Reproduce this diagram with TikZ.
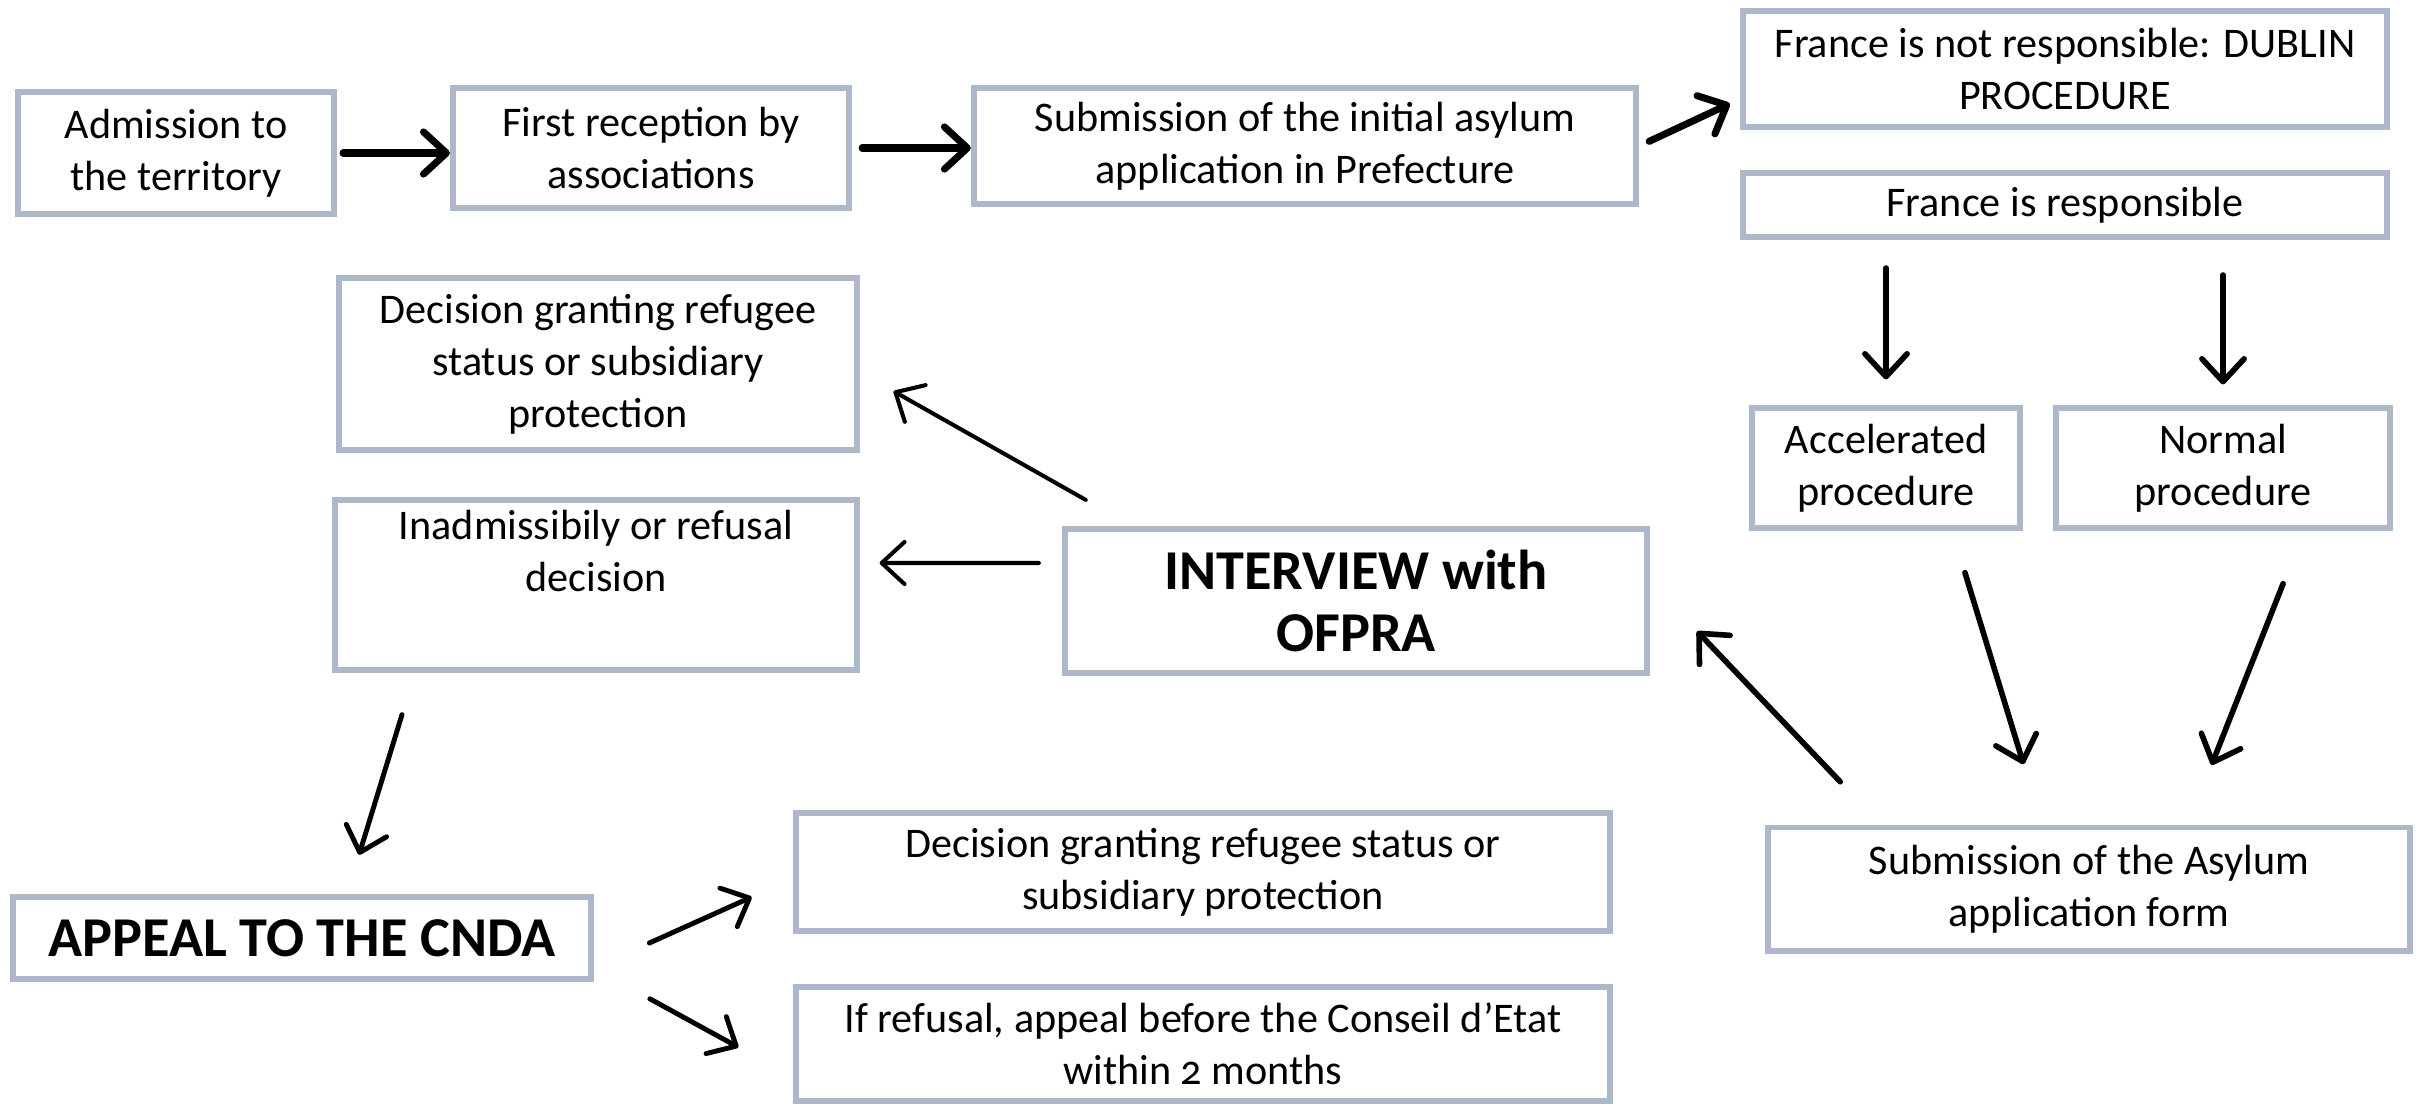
\documentclass[tikz,border=0pt]{standalone}
\usepackage{fontspec}
\setmainfont[Numbers=OldStyle]{Carlito}
\usetikzlibrary{arrows.meta}
\definecolor{boxgray}{RGB}{173,185,202}
\tikzset{
  stage/.style={draw=boxgray, line width=1.7pt, align=center, inner sep=2pt,
    font=\fontsize{12}{14.8}\selectfont},
  keystage/.style={stage, font=\fontsize{16}{17.6}\selectfont\bfseries},
  flow/.style={-{Straight Barb[round,length=6.5pt,width=12pt]}, line width=1.6pt, line cap=round},
  thinflow/.style={flow, line width=1.15pt},
  bigflow/.style={flow, line width=2pt},
}
\begin{document}
\begin{tikzpicture}[x=0.01cm,y=-0.01cm]
    \useasboundingbox (0,0) rectangle (2425,1108);
    % top row
    \node[stage, minimum width=3.16cm, minimum height=1.21cm] (admission) at (176,153) {Admission to\\the territory};
    \node[stage, minimum width=3.96cm, minimum height=1.19cm] (first) at (651,148) {First reception by\\associations};
    \node[stage, minimum width=6.62cm, minimum height=1.16cm] (subinit) at (1305,146) {Submission of the initial asylum\\application in Prefecture};
    \node[stage, minimum width=6.44cm, minimum height=1.16cm] (dublin) at (2065,69) {France is not responsible: DUBLIN\\PROCEDURE};
    \node[stage, minimum width=6.44cm, minimum height=0.64cm] (resp) at (2065,205) {France is responsible};
    % procedures
    \node[stage, minimum width=2.68cm, minimum height=1.19cm] (accel) at (1886,468) {Accelerated\\procedure};
    \node[stage, minimum width=3.33cm, minimum height=1.19cm] (normal) at (2223,468) {Normal\\procedure};
    \node[stage, minimum width=6.42cm, minimum height=1.23cm] (form) at (2089,889) {Submission of the Asylum\\application form};
    \node[keystage, minimum width=5.82cm, minimum height=1.44cm] (interview) at (1356,601) {INTERVIEW with\\OFPRA};
    % decisions
    \node[stage, minimum width=5.17cm, minimum height=1.72cm] (granted) at (598,364) {Decision granting refugee\\status or subsidiary\\protection};
    \node[stage, minimum width=5.21cm, minimum height=1.69cm] (refused) at (596,585) {Inadmissibily or refusal\\decision\\\strut};
    \node[keystage, minimum width=5.77cm, minimum height=0.82cm] (appeal) at (302,938) {APPEAL TO THE CNDA};
    \node[stage, minimum width=8.14cm, minimum height=1.18cm] (protect) at (1203,872) {Decision granting refugee status or\\subsidiary protection};
    \node[stage, minimum width=8.14cm, minimum height=1.14cm] (conseil) at (1203,1044) {If refusal, appeal before the Conseil d’Etat\\within 2 months};

    \draw[bigflow, shorten <=0.06cm] (admission.east) -- (admission.east -| first.west);
    \draw[bigflow, shorten <=0.1cm] (first.east) -- (first.east -| subinit.west);
    \draw[bigflow, shorten <=0.11cm, shorten >=0.11cm] (subinit.east) -- ([yshift=-0.3cm]dublin.west);
    \draw[flow, shorten <=0.28cm, shorten >=0.26cm] (accel.north |- resp.south) -- (accel.north);
    \draw[flow, shorten <=0.35cm, shorten >=0.21cm] (normal.north |- resp.south) -- (normal.north);
    \draw[flow, shorten <=0.44cm, shorten >=0.63cm] ([xshift=0.66cm]accel.south) -- ([xshift=-0.47cm]form.north);
    \draw[flow, shorten <=0.57cm, shorten >=0.64cm] ([xshift=0.81cm]normal.south) -- ([xshift=0.99cm]form.north);
    \draw[flow, shorten <=0.59cm, shorten >=0.68cm] ([xshift=-2.08cm]form.north) -- ([yshift=0.19cm]interview.east);
    \draw[thinflow, shorten <=0.53cm, shorten >=0.39cm] ([xshift=-2.24cm]interview.north) -- ([yshift=-0.08cm]granted.east);
    \draw[thinflow, shorten <=0.23cm, shorten >=0.2cm] ([yshift=0.38cm]interview.west) -- ([yshift=0.22cm]refused.east);
    \draw[flow, line width=1.4pt, shorten <=0.44cm, shorten >=0.41cm] ([xshift=-1.81cm]refused.south) -- ([xshift=0.45cm]appeal.north);
    \draw[flow, line width=1.4pt, shorten <=0.61cm, shorten >=0.45cm] ([yshift=-0.3cm]appeal.east) -- ([yshift=-0.065cm]protect.west);
    \draw[flow, line width=1.4pt, shorten <=0.64cm, shorten >=0.62cm] ([yshift=-0.3cm]appeal.east) -- ([yshift=-0.33cm]conseil.west);
\end{tikzpicture}
\end{document}
